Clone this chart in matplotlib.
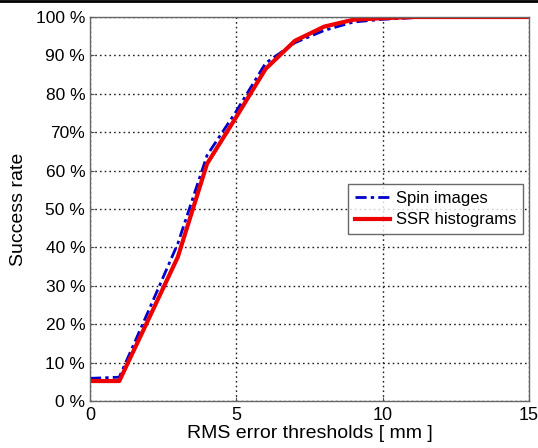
import numpy as np
import matplotlib.pyplot as plt
from matplotlib.lines import Line2D

plt.rcParams['font.family'] = ['Liberation Sans', 'DejaVu Sans']

# RMS error thresholds [mm]
thresholds = [0, 1, 2, 3, 4, 5, 6, 7, 8, 9, 10, 11, 12, 13, 14, 15]
# success rate in percent
spin_images = [5.9, 6.2, 23.5, 41, 64, 75.5, 88, 93.3, 96.5, 98.7, 99.4, 99.8, 100, 100, 100, 100]
ssr_histograms = [5.2, 5.2, 21.3, 37.5, 61.8, 74, 86.5, 93.8, 97.5, 99.3, 99.7, 100, 100, 100, 100, 100]

y_ticks = [0, 10, 20, 30, 40, 50, 60, 70, 80, 90, 100]
y_tick_labels = ['0 %', '10 %', '20 %', '30 %', '40 %', '50 %', '60 %', '70%', '80 %', '90 %', '100 %']


def main():
    fig = plt.figure(figsize=(5.38, 4.48), dpi=100)
    ax = fig.add_axes([0.1673, 0.1049, 0.8160, 0.8571])

    ax.plot(thresholds, spin_images, color='#0000cc', linestyle=(0, (4, 1.5, 1.2, 1.5)),
            linewidth=2.0, label='Spin images')
    ax.plot(thresholds, ssr_histograms, color='#ee0000', linestyle='-', linewidth=3.0,
            label='SSR histograms')

    ax.set_xlim(0, 15)
    ax.set_ylim(0, 100)
    ax.set_xticks([0, 5, 10, 15])
    ax.set_yticks(y_ticks)
    ax.set_yticklabels(y_tick_labels)
    ax.tick_params(direction='in', length=3, labelsize=12.5, color='#555555')
    ax.tick_params(axis='x', labelsize=13, pad=4)

    ax.grid(True, color='#222222', linestyle=(0, (1.2, 2.2)), linewidth=1.0)
    for s in ax.spines.values():
        s.set_color('#666666')
        s.set_linewidth(1.0)

    ax.set_xlabel('RMS error thresholds [ mm ]', fontsize=14, labelpad=1)
    ax.set_ylabel('Success rate', fontsize=14, labelpad=6)

    leg = ax.legend(loc='upper right', bbox_to_anchor=(0.987, 0.565), fontsize=12,
                    frameon=True, fancybox=False, handlelength=2.1, handletextpad=0.4,
                    borderpad=0.4, labelspacing=0.4, borderaxespad=0)
    leg.get_frame().set_edgecolor('#444444')
    leg.get_frame().set_linewidth(1.0)

    # thin black rule along the top edge of the image
    fig.add_artist(Line2D([0, 1], [0.998, 0.998], transform=fig.transFigure,
                          color='black', linewidth=2))

    fig.savefig('out.png', dpi=100)


if __name__ == "__main__":
    main()
